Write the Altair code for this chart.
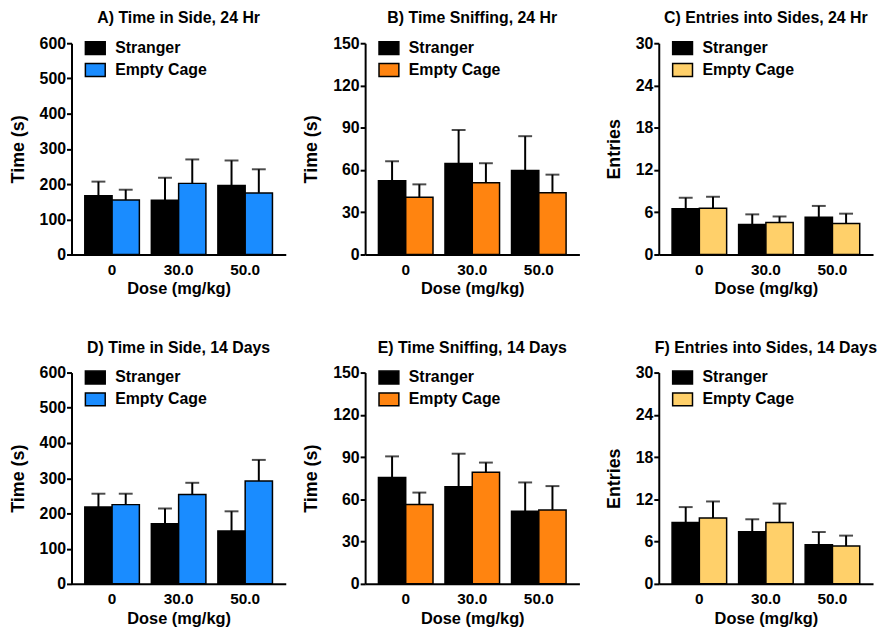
import altair as alt
import pandas as pd

doses = ["0", "30.0", "50.0"]
groups = ["Stranger", "Empty Cage"]

# Panel A: Time in Side, 24 Hr
a_str = [167, 154, 196]
a_str_hi = [207, 218, 267]
a_emp = [155, 202, 175]
a_emp_hi = [184, 270, 242]
# Panel B: Time Sniffing, 24 Hr
b_str = [52.3, 64.6, 59.7]
b_str_hi = [66.2, 88.4, 84.0]
b_emp = [40.7, 50.9, 43.8]
b_emp_hi = [49.8, 64.8, 56.7]
# Panel C: Entries into Sides, 24 Hr
c_str = [6.5, 4.26, 5.28]
c_str_hi = [8.06, 5.7, 6.9]
c_emp = [6.57, 4.54, 4.4]
c_emp_hi = [8.2, 5.4, 5.8]
# Panel D: Time in Side, 14 Days
d_str = [218, 171, 150]
d_str_hi = [256, 214, 206]
d_emp = [225, 254, 292]
d_emp_hi = [256, 287, 352]
# Panel E: Time Sniffing, 14 Days
e_str = [75.5, 69.0, 51.6]
e_str_hi = [90.5, 92.4, 72.0]
e_emp = [56.3, 79.2, 52.5]
e_emp_hi = [64.8, 86.1, 69.4]
# Panel F: Entries into Sides, 14 Days
f_str = [8.7, 7.4, 5.56]
f_str_hi = [10.9, 9.17, 7.36]
f_emp = [9.35, 8.7, 5.37]
f_emp_hi = [11.7, 11.4, 6.85]

BLUE = "#1a8cff"
ORANGE = "#ff8410"
YELLOW = "#ffd06a"
FONT = "Liberation Sans"
LEGEND_PATH = "M-1,-0.65H1V0.65H-1Z"


def make_df(s, s_hi, e, e_hi):
    rows = []
    for i, d in enumerate(doses):
        rows.append({"dose": d, "group": "Stranger", "value": s[i], "upper": s_hi[i]})
        rows.append({"dose": d, "group": "Empty Cage", "value": e[i], "upper": e_hi[i]})
    return pd.DataFrame(rows)


def panel(title, df, ymax, ystep, ytitle, color):
    base = alt.Chart(df)
    x = alt.X(
        "dose:N",
        sort=doses,
        scale=alt.Scale(paddingInner=0.18, paddingOuter=0.2),
        axis=alt.Axis(
            title="Dose (mg/kg)",
            labelAngle=0,
            ticks=False,
            tickSize=0,
            labelPadding=8,
            labelFontSize=15.5,
            titleFontSize=16.5,
            titlePadding=3,
        ),
    )
    xo = alt.XOffset("group:N", sort=groups)
    yaxis = alt.Axis(
        values=list(range(0, ymax + 1, ystep)),
        title=ytitle,
        tickSize=5,
        labelPadding=1,
        labelFontSize=16,
        titleFontSize=18,
        titlePadding=12,
    )
    yscale = alt.Scale(domain=[0, ymax], nice=False, zero=True)
    col = alt.Color(
        "group:N",
        sort=groups,
        scale=alt.Scale(domain=groups, range=["#000000", color]),
        legend=alt.Legend(
            title=None,
            orient="none",
            legendX=13,
            legendY=-6,
            symbolType=LEGEND_PATH,
            symbolSize=400,
            symbolStrokeColor="black",
            symbolStrokeWidth=1.5,
            labelFontSize=16,
            labelFont=FONT,
            labelFontWeight="bold",
            labelColor="black",
            labelOffset=9,
            rowPadding=1,
        ),
    )
    rules = base.mark_rule(strokeWidth=2, color="black").encode(
        x=x, xOffset=xo,
        y=alt.Y("value:Q", scale=yscale, axis=yaxis),
        y2="upper:Q",
    )
    caps = base.mark_tick(size=14, thickness=2, color="black").encode(
        x=x, xOffset=xo,
        y=alt.Y("upper:Q", scale=yscale, axis=yaxis),
    )
    bars = base.mark_bar(stroke="black", strokeWidth=1.5).encode(
        x=x, xOffset=xo,
        y=alt.Y("value:Q", scale=yscale, axis=yaxis),
        color=col,
    )
    return alt.layer(rules, bars, caps).properties(
        width=216,
        height=213,
        title=alt.Title(title, fontSize=16, font=FONT, fontWeight="bold",
                        color="black", anchor="middle", offset=9),
    )


pA = panel("A) Time in Side, 24 Hr", make_df(a_str, a_str_hi, a_emp, a_emp_hi), 600, 100, "Time (s)", BLUE)
pB = panel("B) Time Sniffing, 24 Hr", make_df(b_str, b_str_hi, b_emp, b_emp_hi), 150, 30, "Time (s)", ORANGE)
pC = panel("C) Entries into Sides, 24 Hr", make_df(c_str, c_str_hi, c_emp, c_emp_hi), 30, 6, "Entries", YELLOW)
pD = panel("D) Time in Side, 14 Days", make_df(d_str, d_str_hi, d_emp, d_emp_hi), 600, 100, "Time (s)", BLUE)
pE = panel("E) Time Sniffing, 14 Days", make_df(e_str, e_str_hi, e_emp, e_emp_hi), 150, 30, "Time (s)", ORANGE)
pF = panel("F) Entries into Sides, 14 Days", make_df(f_str, f_str_hi, f_emp, f_emp_hi), 30, 6, "Entries", YELLOW)

chart = (
    alt.concat(pA, pB, pC, pD, pE, pF, columns=3,
               spacing={"row": 119, "column": 80}, bounds="flush")
    .resolve_scale(color="independent")
    .resolve_legend(color="independent")
    .properties(padding={"left": 1, "top": 0, "right": 0, "bottom": 0})
    .configure_view(stroke=None)
    .configure_axis(
        grid=False,
        domainColor="black",
        domainWidth=2,
        tickColor="black",
        tickWidth=2,
        labelFont=FONT,
        labelFontWeight="bold",
        labelColor="black",
        titleFont=FONT,
        titleFontWeight="bold",
        titleColor="black",
    )
)

chart.save("out.html", embed_options={"renderer": "svg", "actions": False})
